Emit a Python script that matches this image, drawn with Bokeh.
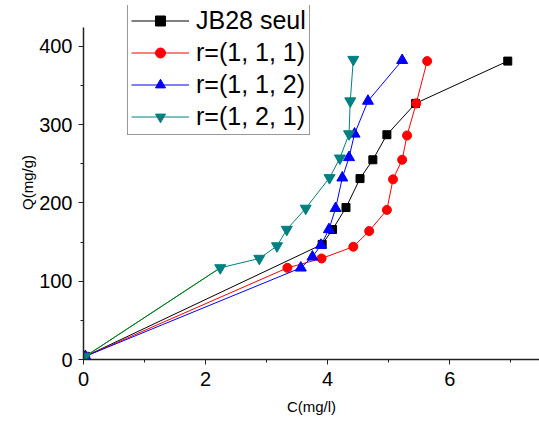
from bokeh.plotting import figure
from bokeh.models import Range1d, Legend, LegendItem, FixedTicker
from bokeh.embed import file_html
from bokeh.resources import INLINE

# ---- data ----
jb_c = [0.03, 3.91, 4.08, 4.30, 4.53, 4.74, 4.97, 5.44, 6.95]
jb_q = [4, 147, 166, 194, 231, 255, 287, 327, 381]

r111_c = [0.03, 3.34, 3.90, 4.42, 4.68, 4.97, 5.07, 5.22, 5.30, 5.45, 5.63]
r111_q = [4, 117, 129, 144, 164, 191, 230, 255, 286, 327, 381]

r112_c = [0.03, 3.56, 3.75, 3.89, 4.02, 4.13, 4.24, 4.35, 4.44, 4.66, 5.22]
r112_q = [4, 117, 131, 146, 166, 193, 232, 258, 288, 330, 382]

r121_c = [0.03, 2.24, 2.88, 3.17, 3.33, 3.64, 4.03, 4.20, 4.35, 4.37, 4.42]
r121_q = [4, 117, 129, 145, 166, 193, 232, 257, 288, 330, 383]

labels = ["JB28 seul", "r=(1, 1, 1)", "r=(1, 1, 2)", "r=(1, 2, 1)"]
x_ticks = [0, 2, 4, 6]
x_minor = [1, 3, 5, 7]
y_ticks = [0, 100, 200, 300, 400]
y_minor = [50, 150, 250, 350]

FONT = "Liberation Sans"

p = figure(width=539, height=424, output_backend="svg", toolbar_location=None,
           x_range=Range1d(0, 7.47), y_range=Range1d(0, 452),
           min_border_left=83, min_border_right=0, min_border_top=5,
           min_border_bottom=65)
p.frame_width = 456
p.frame_height = 354
p.outline_line_color = None
p.grid.visible = False
p.background_fill_color = "white"
p.border_fill_color = "white"

items = []
l0 = p.line(jb_c, jb_q, line_color="black", line_width=1)
m0 = p.scatter(jb_c, jb_q, marker="square", size=8, fill_color="black", line_color="black")
items.append(LegendItem(label=labels[0], renderers=[l0, m0]))

l1 = p.line(r111_c, r111_q, line_color="#ff0000", line_width=1)
m1 = p.scatter(r111_c, r111_q, marker="circle", size=9, fill_color="#ff0000", line_color="#ff0000")
items.append(LegendItem(label=labels[1], renderers=[l1, m1]))

l2 = p.line(r112_c, r112_q, line_color="#0000ff", line_width=1)
m2 = p.scatter(r112_c, r112_q, marker="triangle", size=11, fill_color="#0000ff", line_color="#0000ff")
items.append(LegendItem(label=labels[2], renderers=[l2, m2]))

l3 = p.line(r121_c, r121_q, line_color="#008080", line_width=1)
p.line(r121_c[:2], r121_q[:2], line_color="#008000", line_width=1)
m3 = p.scatter(r121_c, r121_q, marker="inverted_triangle", size=11, fill_color="#008080", line_color="#008080")
items.append(LegendItem(label=labels[3], renderers=[l3, m3]))

legend = Legend(items=items, location=(44, 224))
legend.label_text_font = FONT
legend.label_text_font_size = "25px"
legend.label_text_color = "black"
legend.glyph_width = 58
legend.glyph_height = 25
legend.label_height = 25
legend.spacing = 3
legend.padding = 3
legend.margin = 0
legend.label_standoff = 7
legend.border_line_color = "#333333"
legend.border_line_width = 1
legend.background_fill_alpha = 1
p.add_layout(legend, "center")

for ax in (p.xaxis[0], p.yaxis[0]):
    ax.axis_line_color = "#222222"
    ax.axis_line_width = 1.5
    ax.major_tick_line_color = "#222222"
    ax.minor_tick_line_color = "#222222"
    ax.major_tick_in = 0
    ax.major_tick_out = 5
    ax.minor_tick_in = 0
    ax.minor_tick_out = 3
    ax.major_label_text_font = FONT
    ax.major_label_text_font_size = "20px"
    ax.major_label_text_color = "black"
    ax.axis_label_text_font = FONT
    ax.axis_label_text_font_size = "15px"
    ax.axis_label_text_font_style = "normal"
    ax.axis_label_text_color = "black"

p.xaxis.ticker = FixedTicker(ticks=x_ticks, minor_ticks=x_minor)
p.yaxis.ticker = FixedTicker(ticks=y_ticks, minor_ticks=y_minor)
p.yaxis.bounds = (0, 424)
p.xaxis.axis_label = "C(mg/l)"
p.yaxis.axis_label = "Q(mg/g)"
p.xaxis.major_label_standoff = 7
p.yaxis.major_label_standoff = 6
p.xaxis.axis_label_standoff = 9
p.yaxis.axis_label_standoff = 0

open("out.html", "w").write(file_html(p, INLINE))
